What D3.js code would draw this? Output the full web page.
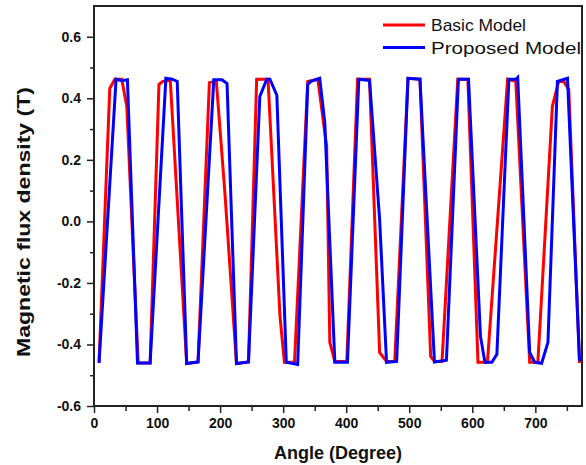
<!DOCTYPE html>
<html>
<head>
<meta charset="utf-8">
<script src="https://cdn.jsdelivr.net/npm/d3@7"></script>
<style>
  body { margin: 0; background: #fff; }
  svg { display: block; font-family: "Liberation Sans", Arial, sans-serif; }
</style>
</head>
<body>
<svg id="chart" width="586" height="465"></svg>
<script>
// angle (degree) / flux density (T) vertices
var basicAngle = [8, 25, 33, 44, 52, 70, 89, 103, 109, 121, 147, 165, 183, 194, 208, 226, 245,
    258, 276, 295, 302, 318, 339, 355, 369, 374, 382, 401, 418, 437, 453, 464, 477,
    498, 517, 534, 540, 552, 577, 593, 609, 624, 656, 669, 691, 704, 727, 737, 745, 753, 770, 778];
var basicFlux = [-0.46, 0.432, 0.462, 0.462, 0.374, -0.46, -0.46, 0.445, 0.455, 0.458, -0.462, -0.457, 0.451, 0.456, 0.082, -0.462, -0.457,
    0.462, 0.462, -0.309, -0.458, -0.458, 0.455, 0.462, 0.244, -0.393, -0.455, -0.455, 0.462, 0.462, -0.426, -0.455, -0.455,
    0.465, 0.462, -0.439, -0.455, -0.455, 0.462, 0.462, -0.458, -0.458, 0.462, 0.455, -0.458, -0.458, 0.374, 0.455, 0.455, 0.429, -0.455, -0.455];

var proposedAngle = [8, 35, 44, 53, 69, 89, 114, 124, 132, 147, 165, 190, 203, 211, 226, 245,
    263, 274, 279, 290, 305, 323, 339, 344, 358, 366, 382, 402, 420, 437, 453, 464, 480,
    498, 517, 540, 559, 578, 594, 613, 620, 631, 639, 658, 669, 672, 691, 699, 710, 720, 735, 751, 770, 778];
var proposedFlux = [-0.46, 0.462, 0.457, 0.46, -0.46, -0.46, 0.465, 0.462, 0.455, -0.462, -0.457, 0.46, 0.46, 0.448, -0.462, -0.457,
    0.406, 0.462, 0.462, 0.41, -0.458, -0.465, 0.445, 0.455, 0.465, 0.322, -0.458, -0.458, 0.462, 0.458, 0.007, -0.458, -0.455,
    0.465, 0.462, -0.457, -0.451, 0.462, 0.462, -0.374, -0.458, -0.458, -0.432, 0.462, 0.462, 0.468, -0.426, -0.458, -0.461, -0.393, 0.455, 0.465, -0.449, -0.455];

var xTicks = [0, 100, 200, 300, 400, 500, 600, 700];
var yTicks = [-0.6, -0.4, -0.2, 0.0, 0.2, 0.4, 0.6];
var seriesNames = ["Basic Model", "Proposed Model"];
var seriesColors = ["#ff0000", "#0000ff"];

var svg = d3.select("#chart");
var pLeft = 94, pRight = 582, pTop = 6, pBottom = 406;

var x = d3.scaleLinear().domain([0, 774]).range([pLeft, pRight]);
var y = d3.scaleLinear().domain([-0.6, 0.7]).range([pBottom, pTop]);

svg.append("defs").append("clipPath").attr("id", "plotclip")
    .append("rect")
    .attr("x", pLeft).attr("y", pTop)
    .attr("width", pRight - pLeft).attr("height", pBottom - pTop);

// minor ticks
var xMinor = d3.range(50, 774, 100);
var yMinor = [-0.5, -0.3, -0.1, 0.1, 0.3, 0.5];

svg.append("g")
    .attr("transform", "translate(0," + pBottom + ")")
    .call(d3.axisBottom(x).tickValues(xMinor).tickSize(5).tickFormat(""))
    .call(function(g) { g.select(".domain").remove(); })
    .selectAll("line").attr("stroke", "#222").attr("stroke-width", 1.5);

svg.append("g")
    .attr("transform", "translate(" + pLeft + ",0)")
    .call(d3.axisLeft(y).tickValues(yMinor).tickSize(4).tickFormat(""))
    .call(function(g) { g.select(".domain").remove(); })
    .selectAll("line").attr("stroke", "#222").attr("stroke-width", 1.5);

// major ticks
var xAxis = svg.append("g")
    .attr("transform", "translate(0," + pBottom + ")")
    .call(d3.axisBottom(x).tickValues(xTicks).tickSize(7).tickPadding(5).tickFormat(d3.format("d")));
xAxis.select(".domain").remove();
xAxis.selectAll("line").attr("stroke", "#222").attr("stroke-width", 1.5);
xAxis.selectAll("text")
    .attr("fill", "#111")
    .style("font-size", "14px")
    .style("font-weight", "bold")
    .style("font-family", "Liberation Sans, Arial");

var yAxis = svg.append("g")
    .attr("transform", "translate(" + pLeft + ",0)")
    .call(d3.axisLeft(y).tickValues(yTicks).tickSize(7).tickPadding(6));
yAxis.select(".domain").remove();
yAxis.selectAll("line").attr("stroke", "#222").attr("stroke-width", 1.5);
yAxis.selectAll("text")
    .attr("fill", "#111")
    .style("font-size", "14px")
    .style("font-weight", "bold")
    .style("font-family", "Liberation Sans, Arial")
    .text(function(d) { return d3.format(".1f")(d).replace("\u2212", "-"); });

// frame
svg.append("rect")
    .attr("x", pLeft).attr("y", pTop)
    .attr("width", pRight - pLeft).attr("height", pBottom - pTop)
    .attr("fill", "none")
    .attr("stroke", "#222")
    .attr("stroke-width", 2);

// lines
var series = [
    { angle: basicAngle, flux: basicFlux },
    { angle: proposedAngle, flux: proposedFlux }
];
var line = d3.line()
    .x(function(d) { return x(d[0]); })
    .y(function(d) { return y(d[1]); });

var plot = svg.append("g").attr("clip-path", "url(#plotclip)");
series.forEach(function(s, i) {
    plot.append("path")
        .datum(d3.zip(s.angle, s.flux))
        .attr("d", line)
        .attr("fill", "none")
        .attr("stroke", seriesColors[i])
        .attr("stroke-width", 3)
        .attr("stroke-linejoin", "miter");
});

// legend
var legendWidths = [95, 150];
var legend = svg.append("g");
seriesNames.forEach(function(name, i) {
    var ly = 25 + i * 22.5;
    legend.append("line")
        .attr("x1", 383).attr("x2", 425)
        .attr("y1", ly).attr("y2", ly)
        .attr("stroke", seriesColors[i])
        .attr("stroke-width", 3);
    legend.append("text")
        .attr("x", 431).attr("y", ly + 6)
        .attr("textLength", legendWidths[i])
        .attr("lengthAdjust", "spacingAndGlyphs")
        .text(name)
        .style("font-size", "17px")
        .attr("fill", "#111");
});

// axis titles
svg.append("text")
    .attr("x", (pLeft + pRight) / 2)
    .attr("y", 459)
    .attr("text-anchor", "middle")
    .style("font-size", "18px")
    .style("font-weight", "bold")
    .attr("fill", "#111")
    .text("Angle (Degree)");

svg.append("text")
    .attr("transform", "translate(30,222) rotate(-90)")
    .attr("text-anchor", "middle")
    .attr("textLength", 270)
    .attr("lengthAdjust", "spacingAndGlyphs")
    .style("font-size", "19px")
    .style("font-weight", "bold")
    .attr("fill", "#111")
    .text("Magnetic flux density (T)");
</script>
</body>
</html>
